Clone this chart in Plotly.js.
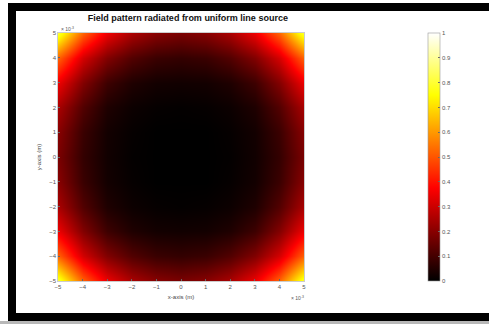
<!DOCTYPE html>
<html>
<head>
<meta charset="utf-8">
<script src="https://cdn.plot.ly/plotly-3.0.1.min.js"></script>
<style>
html,body{margin:0;padding:0;background:#fff;width:489px;height:324px;overflow:hidden;}
.bar{position:absolute;background:#000;}
#plot{position:absolute;left:0;top:0;width:489px;height:324px;}
</style>
</head>
<body>
<div class="bar" style="left:8px;top:3px;width:481px;height:8px;"></div>
<div class="bar" style="left:8px;top:3px;width:8px;height:318px;"></div>
<div class="bar" style="left:8px;top:313px;width:481px;height:8px;"></div>
<div style="position:absolute;left:0;top:321px;width:489px;height:3px;background:#b8b8b8;"></div>
<div id="plot"></div>
<script>
// coordinates in units of 1e-3 m
var xVals = [-5,-4,-3,-2,-1,0,1,2,3,4,5];
var yVals = [-5,-4,-3,-2,-1,0,1,2,3,4,5];
// estimated normalized field magnitude (rows = y, cols = x)
var zVals = [
 [0.80,0.52,0.35,0.25,0.20,0.18,0.20,0.25,0.35,0.52,0.80],
 [0.52,0.31,0.19,0.12,0.085,0.075,0.085,0.12,0.19,0.31,0.52],
 [0.35,0.19,0.09,0.045,0.028,0.025,0.028,0.045,0.09,0.19,0.35],
 [0.25,0.12,0.045,0.018,0.008,0.005,0.008,0.018,0.045,0.12,0.25],
 [0.20,0.085,0.028,0.008,0.00,0.00,0.00,0.008,0.028,0.085,0.20],
 [0.18,0.075,0.025,0.005,0.00,0.00,0.00,0.005,0.025,0.075,0.18],
 [0.20,0.085,0.028,0.008,0.00,0.00,0.00,0.008,0.028,0.085,0.20],
 [0.25,0.12,0.045,0.018,0.008,0.005,0.008,0.018,0.045,0.12,0.25],
 [0.35,0.19,0.09,0.045,0.028,0.025,0.028,0.045,0.09,0.19,0.35],
 [0.52,0.31,0.19,0.12,0.085,0.075,0.085,0.12,0.19,0.31,0.52],
 [0.80,0.52,0.35,0.25,0.20,0.18,0.20,0.25,0.35,0.52,0.80]
];
var tickVals = [-5,-4,-3,-2,-1,0,1,2,3,4,5];
var cbTicks = [0,0.1,0.2,0.3,0.4,0.5,0.6,0.7,0.8,0.9,1];

var hot = [[0,'#000000'],[0.375,'#ff0000'],[0.75,'#ffff00'],[1,'#ffffff']];
var tickFont = {family:'Liberation Sans, Arial, sans-serif', size:6, color:'#555'};

var trace = {
  type:'heatmap', x:xVals, y:yVals, z:zVals, zsmooth:'best',
  zmin:0, zmax:1, colorscale:hot, hoverinfo:'skip',
  colorbar:{
    x:1.504, xanchor:'left', xpad:0, y:0.5, yanchor:'middle',
    len:1.0, lenmode:'fraction', ypad:0, thickness:12, thicknessmode:'pixels',
    outlinecolor:'#999', outlinewidth:0.6,
    tickvals:cbTicks, ticks:'inside', ticklen:2, tickcolor:'#666',
    tickfont:tickFont
  }
};

var axBase = {
  range:[-5,5], tickvals:tickVals, ticks:'inside', ticklen:2, tickcolor:'#666',
  showline:true, linecolor:'#aaa', linewidth:0.6, mirror:true,
  showgrid:false, zeroline:false, tickfont:tickFont, fixedrange:true
};

var layout = {
  width:489, height:324,
  margin:{l:58, r:185, t:33, b:43, pad:0},
  paper_bgcolor:'rgba(0,0,0,0)', plot_bgcolor:'#000',
  title:{text:'<b>Field pattern radiated from uniform line source</b>',
    font:{family:'Liberation Sans, Arial, sans-serif', size:9, color:'#111'},
    x:0.528, xref:'paper', xanchor:'center', y:0.955, yref:'container'},
  xaxis:Object.assign({}, axBase, {title:{text:'x-axis (m)', standoff:5,
    font:{family:'Liberation Sans, Arial, sans-serif', size:6, color:'#444'}}}),
  yaxis:Object.assign({}, axBase, {title:{text:'y-axis (m)', standoff:7,
    font:{family:'Liberation Sans, Arial, sans-serif', size:6, color:'#444'}}}),
  annotations:[
    {text:'× 10<sup>-3</sup>', xref:'paper', yref:'paper', x:0.0, y:1.0,
     xanchor:'left', yanchor:'bottom', showarrow:false, yshift:-1, xshift:1,
     font:{family:'Liberation Sans, Arial, sans-serif', size:5, color:'#555'}},
    {text:'× 10<sup>-3</sup>', xref:'paper', yref:'paper', x:1.0, y:0,
     xanchor:'right', yanchor:'top', showarrow:false, yshift:-12, xshift:2,
     font:{family:'Liberation Sans, Arial, sans-serif', size:5, color:'#555'}}
  ]
};

Plotly.newPlot('plot', [trace], layout, {displayModeBar:false, staticPlot:true});
</script>
</body>
</html>
